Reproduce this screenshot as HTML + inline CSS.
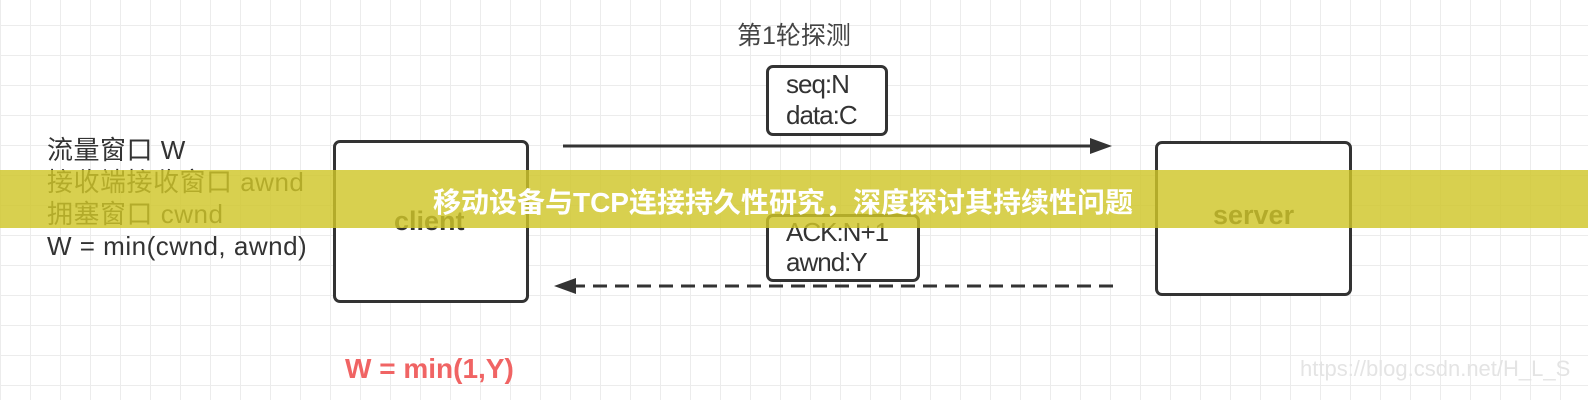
<!DOCTYPE html>
<html><head><meta charset="utf-8"><style>
html,body{margin:0;padding:0}
body{width:1588px;height:400px;position:relative;overflow:hidden;background:#fff;
background-image:linear-gradient(#ececec 1px,transparent 1px),linear-gradient(90deg,#ececec 1px,transparent 1px);
background-size:30px 30px;background-position:0 25px,0 0;
font-family:"Liberation Sans","Noto Sans CJK SC",sans-serif;color:#333}
.t{position:absolute;white-space:nowrap}
.box{position:absolute;border:3px solid #333;border-radius:7px;background:#fff;box-sizing:border-box}
</style></head><body>
<div class="t" style="left:737px;top:16px;font-size:25px;color:#444">第1轮探测</div>
<div class="box" style="left:766px;top:65px;width:122px;height:71px"></div>
<div class="t" style="left:786px;top:69px;font-size:26px;line-height:31px;letter-spacing:-1px">seq:N<br>data:C</div>
<div class="box" style="left:766px;top:214px;width:154px;height:68px"></div>
<div class="t" style="left:786px;top:217px;font-size:26px;line-height:30px;letter-spacing:-1px">ACK:N+1<br>awnd:Y</div>
<div class="box" style="left:333px;top:140px;width:196px;height:163px"></div>
<div class="t" style="left:394px;top:206px;font-size:27px;font-weight:bold">client</div>
<div class="box" style="left:1155px;top:141px;width:197px;height:155px"></div>
<div class="t" style="left:1213px;top:200px;font-size:27px;font-weight:bold">server</div>
<svg style="position:absolute;left:0;top:0" width="1588" height="400">
<line x1="563" y1="146" x2="1095" y2="146" stroke="#333" stroke-width="3"/>
<polygon points="1112,146 1090,138 1090,154" fill="#333"/>
<line x1="1113" y1="286" x2="572" y2="286" stroke="#333" stroke-width="3" stroke-dasharray="14,8"/>
<polygon points="554,286 576,278 576,294" fill="#333"/>
</svg>
<div class="t" style="left:47px;top:134px;font-size:26px;line-height:32px;color:#333;letter-spacing:0.5px">流量窗口 W<br>接收端接收窗口 awnd<br>拥塞窗口 cwnd<br>W = min(cwnd, awnd)</div>
<div class="t" style="left:345px;top:353px;font-size:28px;font-weight:bold;color:#f06464">W = min(1,Y)</div>
<div class="t" style="left:1300px;top:356px;font-size:22px;color:#e4e4e4">https://blog.csdn.net/H_L_S</div>
<div style="position:absolute;left:0;top:170px;width:1588px;height:58px;background:rgba(207,198,40,0.82)"></div>
<div class="t" style="left:0;width:1566px;top:181px;text-align:center;font-size:28px;font-weight:bold;color:#fff">移动设备与TCP连接持久性研究，深度探讨其持续性问题</div>
</body></html>
